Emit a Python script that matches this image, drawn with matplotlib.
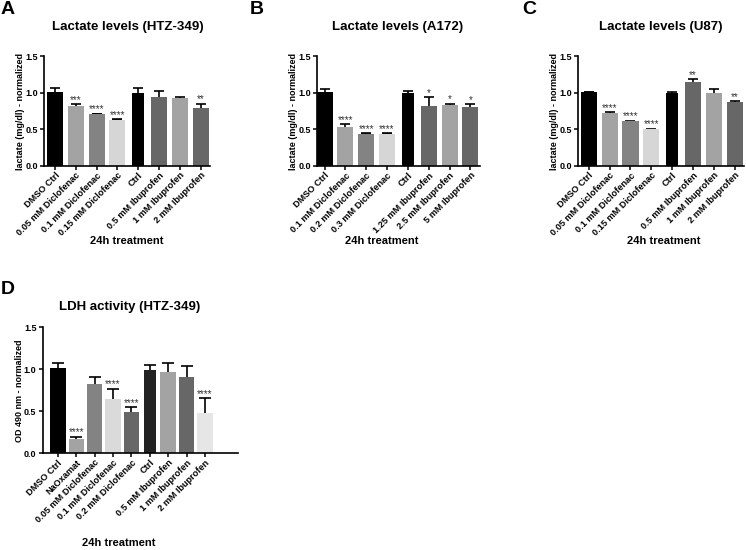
import matplotlib
matplotlib.use("Agg")
import matplotlib.pyplot as plt

plt.rcParams["font.family"] = ["Liberation Sans", "DejaVu Sans"]

# --- data ---
labels_a = ["DMSO Ctrl", "0.05 mM Diclofenac", "0.1 mM Diclofenac", "0.15 mM Diclofenac",
            "Ctrl", "0.5 mM Ibuprofen", "1 mM Ibuprofen", "2 mM Ibuprofen"]
values_a = [1.01, 0.82, 0.71, 0.63, 0.99, 0.94, 0.93, 0.79]
errors_a = [0.06, 0.02, 0.005, 0.005, 0.08, 0.08, 0.01, 0.06]
stars_a = ["", "***", "****", "****", "", "", "", "**"]

labels_b = ["DMSO Ctrl", "0.1 mM Diclofenac", "0.2 mM Diclofenac", "0.3 mM Diclofenac",
            "Ctrl", "1.25 mM Ibuprofen", "2.5 mM Ibuprofen", "5 mM Ibuprofen"]
values_b = [1.01, 0.53, 0.44, 0.44, 0.99, 0.82, 0.83, 0.80]
errors_b = [0.04, 0.04, 0.01, 0.01, 0.03, 0.12, 0.02, 0.04]
stars_b = ["", "****", "****", "****", "", "*", "*", "*"]

labels_c = ["DMSO Ctrl", "0.05 mM Diclofenac", "0.1 mM Diclofenac", "0.15 mM Diclofenac",
            "Ctrl", "0.5 mM Ibuprofen", "1 mM Ibuprofen", "2 mM Ibuprofen"]
values_c = [1.01, 0.72, 0.61, 0.50, 0.99, 1.14, 1.00, 0.87]
errors_c = [0.005, 0.01, 0.01, 0.01, 0.02, 0.04, 0.05, 0.01]
stars_c = ["", "****", "****", "****", "", "**", "", "**"]

labels_d = ["DMSO Ctrl", "NaOxamat", "0.05 mM Diclofenac", "0.1 mM Diclofenac", "0.2 mM Diclofenac",
            "Ctrl", "0.5 mM Ibuprofen", "1 mM Ibuprofen", "2 mM Ibuprofen"]
values_d = [1.01, 0.17, 0.83, 0.65, 0.49, 0.99, 0.97, 0.91, 0.48]
errors_d = [0.06, 0.03, 0.08, 0.12, 0.06, 0.06, 0.11, 0.13, 0.18]
stars_d = ["", "****", "", "****", "****", "", "", "", "****"]

# bar fills
colors_abc = ["#000000", "#a3a3a3", "#838383", "#d6d6d6", "#000000", "#676767", "#a3a3a3", "#676767"]
colors_d = ["#000000", "#a3a3a3", "#838383", "#dadada", "#676767", "#222222", "#a3a3a3", "#676767", "#e6e6e6"]

W, H = 746, 550


def rect(left, right, top, bottom):
    return [left / W, (H - bottom) / H, (right - left) / W, (bottom - top) / H]


def draw_panel(ax, labels, values, errors, stars, colors, xlim, wide, narrow, cap):
    x = list(range(len(labels)))
    widths = [narrow if lab == "Ctrl" else wide for lab in labels]
    ax.bar(x, values, width=widths, color=colors, edgecolor="none", zorder=2)
    ax.errorbar(x, values, yerr=errors, fmt="none", ecolor="black",
                elinewidth=1.2, capsize=cap, capthick=1.2, zorder=1)
    for xi, v, e, s in zip(x, values, errors, stars):
        if s:
            ax.annotate(s, (xi, v + e), xytext=(0, 3), textcoords="offset points",
                        ha="center", va="center", fontsize=7, color="#333333")
    ax.set_xlim(*xlim)
    ax.set_ylim(0, 1.5)
    ax.set_yticks([0, 0.5, 1.0, 1.5])
    ax.set_yticklabels(["0.0", "0.5", "1.0", "1.5"], fontsize=6.5, fontweight="bold")
    ax.set_xticks(x)
    ax.set_xticklabels(labels, rotation=45, ha="right", rotation_mode="anchor",
                       fontsize=6.6, fontweight="bold")
    for side in ["top", "right"]:
        ax.spines[side].set_visible(False)
    for side in ["left", "bottom"]:
        ax.spines[side].set_linewidth(1.2)
    ax.tick_params(direction="out", length=3, width=1.1, pad=1.5)
    ax.tick_params(axis="x", pad=0.5)


fig = plt.figure(figsize=(W / 100, H / 100), dpi=100)

ax_a = fig.add_axes(rect(44, 210, 56, 166))
ax_b = fig.add_axes(rect(317, 480, 56, 166))
ax_c = fig.add_axes(rect(578, 744, 56, 166))
ax_d = fig.add_axes(rect(42.7, 238.3, 327.3, 453.3))

draw_panel(ax_a, labels_a, values_a, errors_a, stars_a, colors_abc, (-0.53, 7.45), 0.77, 0.58, 3.5)
draw_panel(ax_b, labels_b, values_b, errors_b, stars_b, colors_abc, (-0.36, 7.46), 0.77, 0.58, 3.5)
draw_panel(ax_c, labels_c, values_c, errors_c, stars_c, colors_abc, (-0.52, 7.45), 0.77, 0.58, 3.5)
draw_panel(ax_d, labels_d, values_d, errors_d, stars_d, colors_d, (-0.83, 9.82), 0.85, 0.67, 4.0)

for ax in [ax_a, ax_b, ax_c]:
    ax.set_ylabel("lactate (mg/dl) - normalized", fontsize=6.5, fontweight="bold", labelpad=0)
ax_d.set_ylabel("OD 490 nm - normalized", fontsize=6.5, fontweight="bold", labelpad=0)

# titles, panel letters, x titles (figure pixel positions)
titles = [("Lactate levels (HTZ-349)", 127.5, 26.7), ("Lactate levels (A172)", 398, 26.7),
          ("Lactate levels (U87)", 661, 26.7), ("LDH activity (HTZ-349)", 130, 306.7)]
for t, px, py in titles:
    fig.text(px / W, 1 - py / H, t, ha="center", va="center", fontsize=9.5, fontweight="bold")

for letter, px, py in [("A", 1, 10), ("B", 250, 10), ("C", 522, 10), ("D", 1, 290)]:
    fig.text(px / W, 1 - py / H, letter, ha="left", va="center", fontsize=14, fontweight="bold")

for px, py in [(127, 241), (382, 241), (664, 241), (119, 543)]:
    fig.text(px / W, 1 - py / H, "24h treatment", ha="center", va="center", fontsize=8, fontweight="bold")

fig.savefig("out.png", dpi=100)
